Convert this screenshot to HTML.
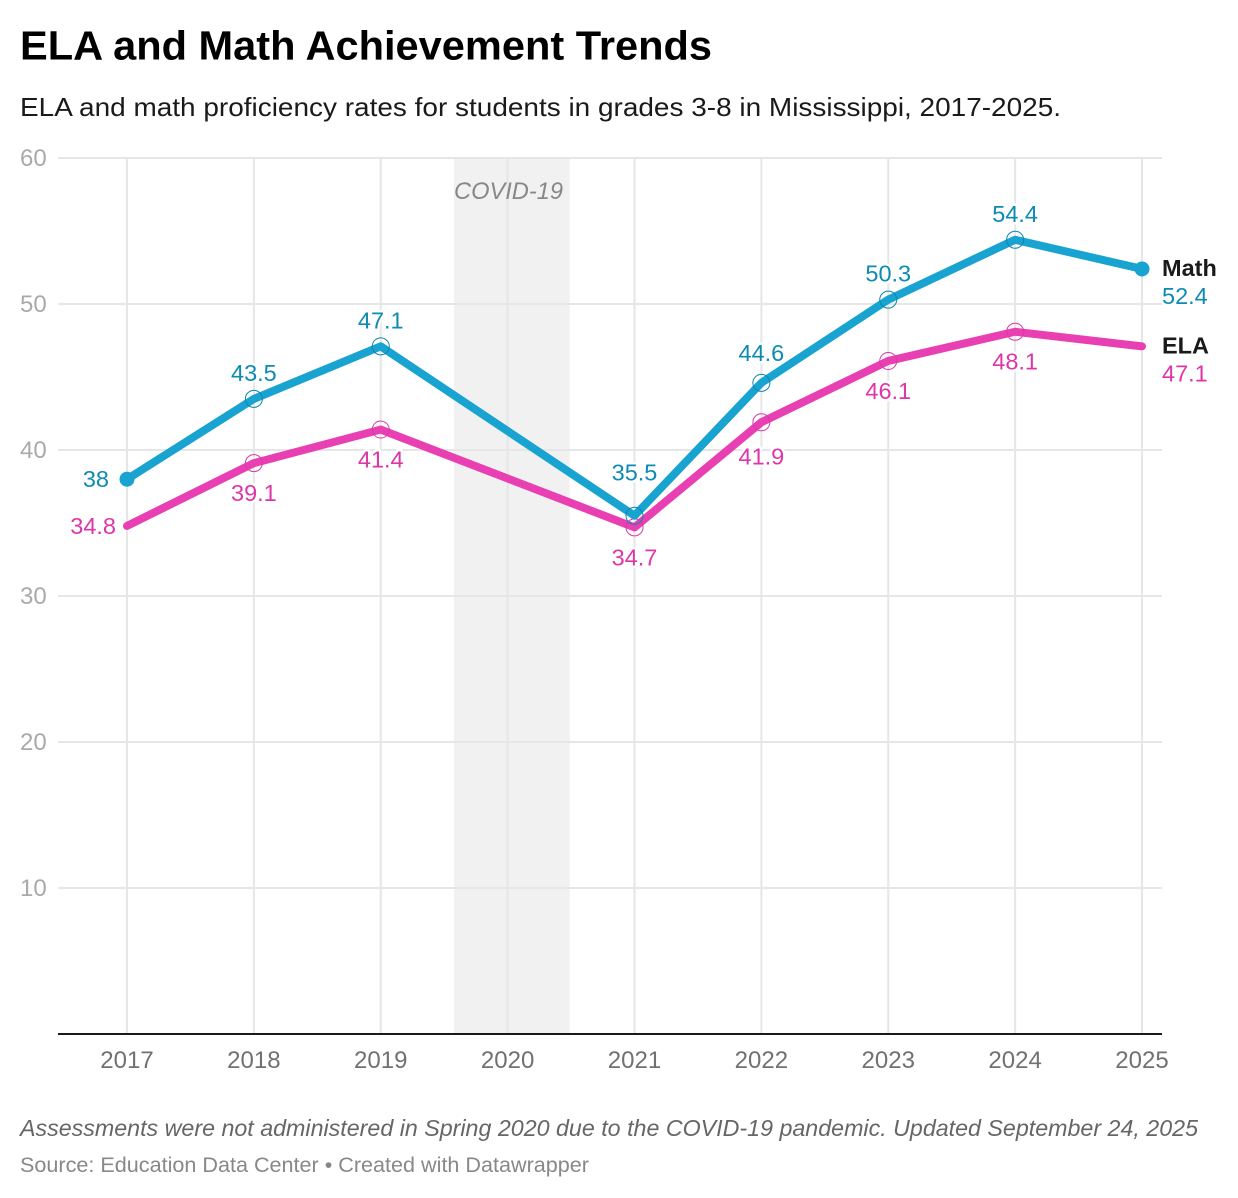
<!DOCTYPE html>
<html lang="en">
<head>
<meta charset="utf-8">
<title>ELA and Math Achievement Trends</title>
<style>
html,body{margin:0;padding:0;background:#fff;}
svg{display:block;font-family:"Liberation Sans",sans-serif;}
</style>
</head>
<body>
<svg id="chart" xmlns="http://www.w3.org/2000/svg" width="1238" height="1198" viewBox="0 0 1238 1198">
  <rect width="1238" height="1198" fill="#fff"/>
  <text x="20" y="59.5" font-size="41" font-weight="700" fill="#000" textLength="692" lengthAdjust="spacingAndGlyphs">ELA and Math Achievement Trends</text>
  <text x="20" y="116" font-size="26" fill="#1a1a1a" textLength="1041" lengthAdjust="spacingAndGlyphs">ELA and math proficiency rates for students in grades 3-8 in Mississippi, 2017-2025.</text>
  <rect id="band" fill="#f1f1f1"/>
  <g id="grid"></g>
  <g id="axes"></g>
  <g id="marks"></g>
  <g id="labels"></g>
  <text x="454" y="199" font-size="24" font-style="italic" fill="#888" textLength="109" lengthAdjust="spacingAndGlyphs">COVID-19</text>
  <text x="20" y="1136" font-size="23.5" font-style="italic" fill="#666" textLength="1178" lengthAdjust="spacingAndGlyphs">Assessments were not administered in Spring 2020 due to the COVID-19 pandemic. Updated September 24, 2025</text>
  <text x="20" y="1172" font-size="21" fill="#888" textLength="569" lengthAdjust="spacingAndGlyphs">Source: Education Data Center • Created with Datawrapper</text>
</svg>
<script>
const years = [2017, 2018, 2019, 2020, 2021, 2022, 2023, 2024, 2025];
const mathValues = [38, 43.5, 47.1, null, 35.5, 44.6, 50.3, 54.4, 52.4];
const elaValues = [34.8, 39.1, 41.4, null, 34.7, 41.9, 46.1, 48.1, 47.1];
const yTicks = [10, 20, 30, 40, 50, 60];
const covidStart = 2019.577;
const covidEnd = 2020.49;

const NS = 'http://www.w3.org/2000/svg';
const xScale = v => 127 + (v - 2017) * (1142 - 127) / 8;
const yScale = v => 1034 - v * (1034 - 158) / 60;
const mk = (parent, tag, attrs, text) => {
  const el = document.createElementNS(NS, tag);
  for (const k in attrs) el.setAttribute(k, attrs[k]);
  if (text !== undefined) el.textContent = text;
  parent.appendChild(el);
  return el;
};
const grid = document.getElementById('grid');
const axes = document.getElementById('axes');
const marks = document.getElementById('marks');
const labels = document.getElementById('labels');

const band = document.getElementById('band');
band.setAttribute('x', xScale(covidStart));
band.setAttribute('width', xScale(covidEnd) - xScale(covidStart));
band.setAttribute('y', yScale(60));
band.setAttribute('height', yScale(0) - yScale(60));

years.forEach(year => {
  const line = mk(grid, 'line', {x1: xScale(year), x2: xScale(year), y1: yScale(60), y2: yScale(0), stroke: '#e6e6e6', 'stroke-width': 2});
  
  
  const tick = mk(axes, 'text', {x: xScale(year), y: 1068, 'text-anchor': 'middle', 'font-size': 24, fill: '#717171'}, String(year));
  
  
});
yTicks.forEach(t => {
  const line = mk(grid, 'line', {x1: 58, x2: 1162, y1: yScale(t), y2: yScale(t), stroke: '#e6e6e6', 'stroke-width': 2});
  
  
  const tick = mk(axes, 'text', {x: 20, y: yScale(t) + 8, 'font-size': 24, fill: '#aaaaaa'}, String(t));
  
  
});
const baseline = mk(axes, 'line', {x1: 58, x2: 1162, y1: yScale(0), y2: yScale(0), stroke: '#1a1a1a', 'stroke-width': 2});



function drawSeries(name, values, lineColor, circleColor, textColor, above, endDots) {
  const pts = [];
  values.forEach((v, i) => { if (v !== null) pts.push([xScale(years[i]), yScale(v), v, i]); });
  const path = mk(marks, 'path', {
    d: pts.map((p, i) => (i ? 'L' : 'M') + p[0] + ' ' + p[1]).join(' '),
    fill: 'none', stroke: lineColor, 'stroke-width': 8, 'stroke-linecap': 'round', 'stroke-linejoin': 'round'
  });
  
  

  pts.forEach((p, idx) => {
    const first = idx === 0, last = idx === pts.length - 1;
    if (first || last) {
      if (endDots) {
        const dot = mk(marks, 'circle', {cx: p[0], cy: p[1], r: 7.5, fill: lineColor});
        
        
      }
    } else {
      const c = mk(marks, 'circle', {cx: p[0], cy: p[1], r: 8.5, fill: 'none', stroke: circleColor, 'stroke-width': 1});
      
      
    }
    let x = p[0], y, anchor = 'middle';
    const steepRise = !first && p[2] - pts[idx - 1][2] > 7 ? 4 : 0;
    if (first) {
      x = p[0] - (above ? 18 : 11);
      y = p[1] + 8;
      anchor = 'end';
    } else if (last) {
      x = 1162;
      y = p[1] + 35;
      anchor = 'start';
    } else if (above) {
      const other = elaValues[p[3]];
      y = p[1] - (Math.abs(p[2] - other) < 2 ? 35 : 18 + steepRise);
    } else {
      y = p[1] + 38 + steepRise;
    }
    const lab = mk(labels, 'text', {
      x: x, y: y, 'text-anchor': anchor, 'font-size': 23.5, fill: textColor,
      stroke: '#fff', 'stroke-width': 5, 'stroke-linejoin': 'round', 'paint-order': 'stroke'
    }, String(p[2]));
    
    
    if (last) {
      const title = mk(labels, 'text', {x: 1162, y: p[1] + 7, 'font-size': 23.5, 'font-weight': 700, fill: '#1a1a1a'}, name === 'math' ? 'Math' : 'ELA');
      
      
    }
  });
}
drawSeries('ela', elaValues, '#e83fb3', '#d63aa6', '#dd36a9', false, false);
drawSeries('math', mathValues, '#18a3d0', '#0f86ad', '#0e8bb2', true, true);
</script>
</body>
</html>
